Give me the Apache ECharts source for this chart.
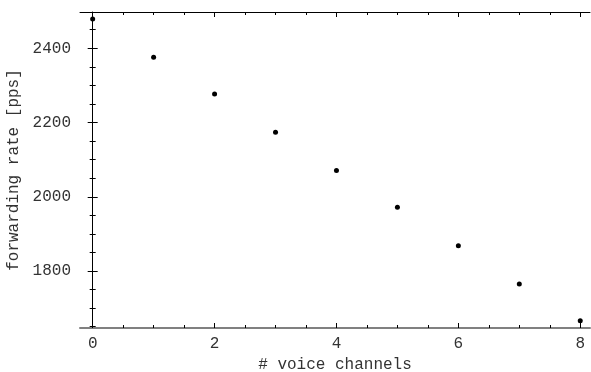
<!DOCTYPE html>
<html>
<head>
<meta charset="utf-8">
<script src="https://cdn.jsdelivr.net/npm/echarts@6/dist/echarts.min.js"></script>
<style>
  html, body { margin: 0; padding: 0; background: #fff; }
  #chart { width: 591px; height: 372px; }
</style>
</head>
<body>
<div id="chart"></div>
<script>
const channels = [0, 1, 2, 3, 4, 5, 6, 7, 8]
const rates = [2479, 2376, 2277, 2174, 2071, 1972, 1868, 1765, 1666]

const xMajor = [0, 2, 4, 6, 8]
const xMinor = [0.5, 1, 1.5, 2.5, 3, 3.5, 4.5, 5, 5.5, 6.5, 7, 7.5]
const yMajor = [1800, 2000, 2200, 2400]
const yMinor = [1650, 1700, 1750, 1850, 1900, 1950, 2050, 2100, 2150, 2250, 2300, 2350, 2450]

const X_MIN = -0.208, X_MAX = 8.16
const Y_MIN = 1646.6, Y_MAX = 2497.7
const FONT = '"Liberation Mono", "Courier New", monospace'
const TXT = '#333'

const chart = echarts.init(document.getElementById('chart'))

// one axis per tick kind, stacked on the same edge
function xAx(pos, ticks, len, extra) {
  return Object.assign({
    type: 'value', position: pos, min: X_MIN, max: X_MAX,
    axisLine: { show: false },
    axisTick: { show: true, inside: true, length: len, customValues: ticks, lineStyle: { color: '#000' } },
    axisLabel: { show: false },
    splitLine: { show: false },
  }, extra || {})
}
function yAx(pos, ticks, len, extra) {
  return Object.assign({
    type: 'value', position: pos, min: Y_MIN, max: Y_MAX,
    axisLine: { show: false },
    axisTick: { show: true, inside: true, length: len, customValues: ticks, lineStyle: { color: '#000' } },
    axisLabel: { show: false },
    splitLine: { show: false },
  }, extra || {})
}

chart.setOption({
  animation: false,
  backgroundColor: '#fff',
  grid: { left: 80, right: 1, top: 12, bottom: 44, containLabel: false, outerBoundsMode: 'none' },
  xAxis: [
    xAx('bottom', xMajor, 5, {
      axisLine: { show: true, lineStyle: { color: '#808080', width: 2 } },
      axisLabel: { show: true, customValues: xMajor, color: TXT, fontFamily: FONT, fontSize: 16, margin: 8 },
      name: '# voice channels', nameLocation: 'middle', nameGap: 26,
      nameTextStyle: { color: TXT, fontFamily: FONT, fontSize: 16 },
    }),
    xAx('bottom', xMinor, 3),
    xAx('top', xMajor, 5, { axisLine: { show: true, lineStyle: { color: '#000', width: 1 } } }),
    xAx('top', xMinor, 3),
  ],
  yAxis: [
    yAx('left', yMajor, 5, {
      axisLine: { show: true, lineStyle: { color: '#000', width: 1 } },
      axisLabel: { show: true, customValues: yMajor, formatter: v => String(v), color: TXT, fontFamily: FONT, fontSize: 16, margin: 9 },
      name: 'forwarding rate [pps]', nameLocation: 'middle', nameGap: 50,
      nameTextStyle: { color: TXT, fontFamily: FONT, fontSize: 16 },
    }),
    yAx('left', yMinor, 3),
    yAx('right', yMajor, 5),
    yAx('right', yMinor, 3),
  ],
  series: [{
    type: 'scatter',
    xAxisIndex: 0, yAxisIndex: 0,
    data: channels.map((c, i) => [c, rates[i]]),
    symbol: 'circle', symbolSize: 5,
    itemStyle: { color: '#000', opacity: 1 },
    silent: true,
  }],
})
</script>
</body>
</html>
